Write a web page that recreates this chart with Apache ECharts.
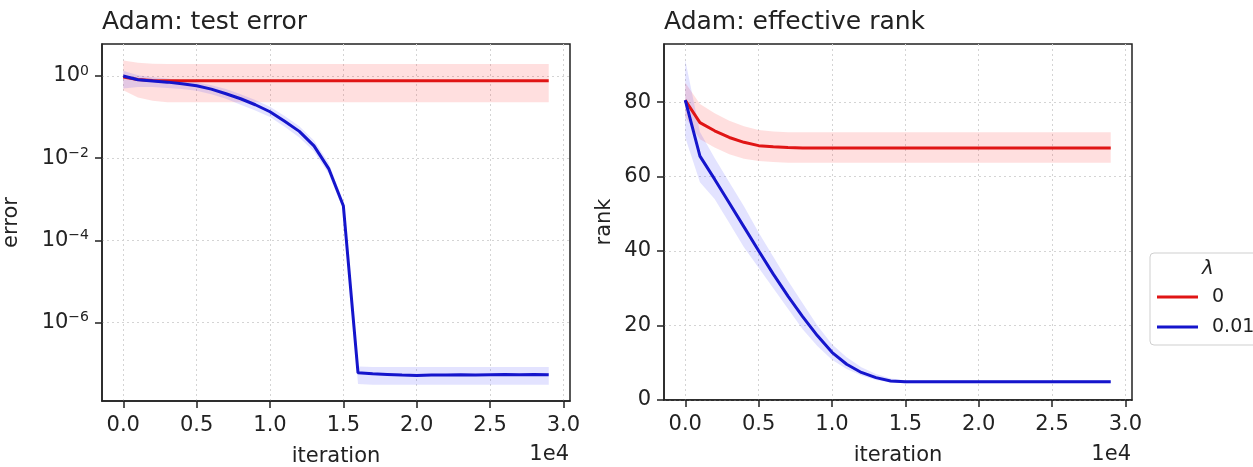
<!DOCTYPE html>
<html><head><meta charset="utf-8">
<script src="https://cdn.jsdelivr.net/npm/echarts@6/dist/echarts.min.js"></script>
<style>html,body{margin:0;padding:0;background:#fff}#c{width:1253px;height:467px}</style>
</head><body><div id="c"></div>
<script>
// ---------- data ----------
const iterations = [0,1000,2000,3000,4000,5000,6000,7000,8000,9000,10000,11000,12000,13000,14000,15000,16000,17000,18000,19000,20000,21000,22000,23000,24000,25000,26000,27000,28000,29000];
const xTicks = [0,5000,10000,15000,20000,25000,30000];
const errTickExponents = [-6,-4,-2,0];
const rankTicks = [0,20,40,60,80];
const legendNames = ['0','0.01'];

// test error, lambda = 0
const errRed   = [0.95,0.82,0.78,0.77,0.77,0.77,0.77,0.77,0.77,0.77,0.77,0.77,0.77,0.77,0.77,0.77,0.77,0.77,0.77,0.77,0.77,0.77,0.77,0.77,0.77,0.77,0.77,0.77,0.77,0.77];
const errRedHi = [2.4,2.1,2.0,1.95,1.95,1.95,1.95,1.95,1.95,1.95,1.95,1.95,1.95,1.95,1.95,1.95,1.95,1.95,1.95,1.95,1.95,1.95,1.95,1.95,1.95,1.95,1.95,1.95,1.95,1.95];
const errRedLo = [0.45,0.30,0.25,0.23,0.23,0.23,0.23,0.23,0.23,0.23,0.23,0.23,0.23,0.23,0.23,0.23,0.23,0.23,0.23,0.23,0.23,0.23,0.23,0.23,0.23,0.23,0.23,0.23,0.23,0.23];
// test error, lambda = 0.01
const errBlue   = [1.0,0.81,0.76,0.71,0.65,0.58,0.48,0.37,0.28,0.20,0.135,0.079,0.045,0.020,0.0056,0.0007,6.0e-8,5.7e-8,5.5e-8,5.3e-8,5.2e-8,5.3e-8,5.3e-8,5.4e-8,5.3e-8,5.4e-8,5.5e-8,5.4e-8,5.5e-8,5.4e-8];
const errBlueHi = [1.35,1.05,0.93,0.87,0.79,0.71,0.60,0.48,0.36,0.26,0.18,0.107,0.060,0.027,0.0076,0.00089,8.5e-8,8.3e-8,8.3e-8,8.3e-8,8.3e-8,8.3e-8,8.3e-8,8.3e-8,8.3e-8,8.3e-8,8.3e-8,8.3e-8,8.3e-8,8.3e-8];
const errBlueLo = [0.50,0.54,0.54,0.51,0.48,0.44,0.36,0.28,0.20,0.145,0.100,0.058,0.032,0.0145,0.0042,0.00056,3.2e-8,3.1e-8,3.1e-8,3.1e-8,3.1e-8,3.1e-8,3.1e-8,3.1e-8,3.1e-8,3.1e-8,3.1e-8,3.1e-8,3.1e-8,3.1e-8];

// effective rank, lambda = 0
const rankRed   = [80.5,74.5,72.3,70.5,69.2,68.3,68.0,67.8,67.7,67.7,67.7,67.7,67.7,67.7,67.7,67.7,67.7,67.7,67.7,67.7,67.7,67.7,67.7,67.7,67.7,67.7,67.7,67.7,67.7,67.7];
const rankRedHi = [85.2,79.5,77.0,75.0,73.5,72.5,72.1,71.9,71.9,71.9,71.9,71.9,71.9,71.9,71.9,71.9,71.9,71.9,71.9,71.9,71.9,71.9,71.9,71.9,71.9,71.9,71.9,71.9,71.9,71.9];
const rankRedLo = [76.0,70.0,67.8,66.0,64.8,64.2,63.9,63.7,63.7,63.7,63.7,63.7,63.7,63.7,63.7,63.7,63.7,63.7,63.7,63.7,63.7,63.7,63.7,63.7,63.7,63.7,63.7,63.7,63.7,63.7];
// effective rank, lambda = 0.01
const rankBlue   = [80.5,65.5,59.3,52.9,46.5,40.1,33.8,27.9,22.4,17.3,12.8,9.6,7.4,6.0,5.1,4.9,4.9,4.9,4.9,4.9,4.9,4.9,4.9,4.9,4.9,4.9,4.9,4.9,4.9,4.9];
const rankBlueHi = [91.3,72.0,65.0,58.5,52.0,45.0,38.5,32.0,26.0,20.0,15.0,11.5,8.8,7.0,5.8,5.3,5.3,5.3,5.3,5.3,5.3,5.3,5.3,5.3,5.3,5.3,5.3,5.3,5.3,5.3];
const rankBlueLo = [70.5,58.5,54.0,47.5,41.0,35.5,30.0,24.5,19.0,14.5,10.8,8.3,6.6,5.4,4.7,4.5,4.5,4.5,4.5,4.5,4.5,4.5,4.5,4.5,4.5,4.5,4.5,4.5,4.5,4.5];

// ---------- styling ----------
const FONT = 'DejaVu Sans';
const TXT = '#222';
const RED = '#e01515';
const BLUE = '#1515cc';
const RED_BAND = 'rgba(255,40,40,0.15)';
const BLUE_BAND = 'rgba(40,40,255,0.13)';

const lg = a => a.map(v => Math.log10(v));

function band(ax, xs, lo, hi, color) {
  return {
    type: 'custom', xAxisIndex: ax, yAxisIndex: ax, silent: true, clip: true,
    data: xs.map((x, i) => [x, lo[i], hi[i]]),
    encode: { x: 0, y: [1, 2] },
    renderItem: function (params, api) {
      if (params.dataIndex !== 0) return null;
      const pts = [];
      for (let i = 0; i < xs.length; i++) pts.push(api.coord([xs[i], hi[i]]));
      for (let i = xs.length - 1; i >= 0; i--) pts.push(api.coord([xs[i], lo[i]]));
      return { type: 'polygon', shape: { points: pts }, style: { fill: color } };
    }
  };
}
function line(ax, name, xs, ys, color) {
  return {
    type: 'line', name: name, xAxisIndex: ax, yAxisIndex: ax,
    data: xs.map((x, i) => [x, ys[i]]),
    symbol: 'none', showSymbol: false, silent: true,
    lineStyle: { color: color, width: 3 }, itemStyle: { color: color }
  };
}
function xAxis(grid) {
  return {
    type: 'value', gridIndex: grid, min: -1450, max: 30450,
    name: 'iteration', nameLocation: 'middle', nameGap: 45,
    nameTextStyle: { fontSize: 21, color: TXT, fontFamily: FONT },
    axisLine: { show: true, onZero: false, lineStyle: { color: '#222', width: 1.5 } },
    axisTick: { show: true, length: 7, customValues: xTicks, lineStyle: { color: '#222', width: 1.5 } },
    axisLabel: { customValues: xTicks, margin: 14, fontSize: 21, color: TXT, fontFamily: FONT,
      formatter: v => (v / 10000).toFixed(1) },
    splitLine: { show: true, lineStyle: { color: '#d4d4d4', width: 1, type: [2, 3] } }
  };
}

const option = {
  animation: false,
  textStyle: { fontFamily: FONT },
  title: [
    { text: 'Adam: test error', left: 102, top: 10, padding: 0,
      textStyle: { fontSize: 25, fontWeight: 'normal', color: TXT, fontFamily: FONT } },
    { text: 'Adam: effective rank', left: 664, top: 10, padding: 0,
      textStyle: { fontSize: 25, fontWeight: 'normal', color: TXT, fontFamily: FONT } }
  ],
  grid: [
    { left: 102, top: 44, width: 468, height: 357, show: true, borderColor: '#222', borderWidth: 1.5, outerBoundsMode: 'none', containLabel: false },
    { left: 664, top: 44, width: 468, height: 356, show: true, borderColor: '#222', borderWidth: 1.5, outerBoundsMode: 'none', containLabel: false }
  ],
  xAxis: [xAxis(0), xAxis(1)],
  yAxis: [
    { type: 'value', gridIndex: 0, min: -7.907, max: 0.779,
      name: 'error', nameLocation: 'middle', nameGap: 80,
      nameTextStyle: { fontSize: 21, color: TXT, fontFamily: FONT },
      axisLine: { show: true, onZero: false, lineStyle: { color: '#222', width: 1.5 } },
      axisTick: { show: true, length: 7, customValues: errTickExponents, lineStyle: { color: '#222', width: 1.5 } },
      axisLabel: { customValues: errTickExponents, margin: 13, color: TXT, fontFamily: FONT,
        formatter: v => '{b|10}{s|' + (Math.round(v) === 0 ? '0' : '\u2212' + Math.round(-v)) + '}',
        rich: { b: { fontSize: 21, lineHeight: 24, color: TXT, fontFamily: FONT },
                s: { fontSize: 14, lineHeight: 12, verticalAlign: 'top', color: TXT, fontFamily: FONT } } },
      splitLine: { show: true, lineStyle: { color: '#d4d4d4', width: 1, type: [2, 3] } } },
    { type: 'value', gridIndex: 1, min: 0, max: 95.6,
      name: 'rank', nameLocation: 'middle', nameGap: 49,
      nameTextStyle: { fontSize: 21, color: TXT, fontFamily: FONT },
      axisLine: { show: true, onZero: false, lineStyle: { color: '#222', width: 1.5 } },
      axisTick: { show: true, length: 7, customValues: rankTicks, lineStyle: { color: '#222', width: 1.5 } },
      axisLabel: { customValues: rankTicks, margin: 13, fontSize: 21, color: TXT, fontFamily: FONT },
      splitLine: { show: true, lineStyle: { color: '#d4d4d4', width: 1, type: [2, 3] } } }
  ],
  legend: {
    data: legendNames, orient: 'vertical', left: 1150, top: 253,
    padding: [34, 40, 8, 7], icon: 'rect', itemWidth: 41, itemHeight: 3, itemGap: 10,
    backgroundColor: '#fff', borderColor: '#cfcfcf', borderWidth: 1, borderRadius: 4,
    selectedMode: false,
    textStyle: { fontSize: 19, lineHeight: 20, color: TXT, fontFamily: FONT, padding: [0, 0, 0, 9] }
  },
  graphic: [
    { type: 'text', x: 569, y: 455, silent: true, style: { text: '1e4', fontSize: 21, fontFamily: FONT, fill: TXT, align: 'right', verticalAlign: 'middle' } },
    { type: 'text', x: 1131, y: 455, silent: true, style: { text: '1e4', fontSize: 21, fontFamily: FONT, fill: TXT, align: 'right', verticalAlign: 'middle' } },
    { type: 'text', x: 1208, y: 269, z: 100, silent: true, style: { text: '\u03bb', fontSize: 20, fontStyle: 'italic', fontFamily: FONT, fill: TXT, align: 'center', verticalAlign: 'middle' } }
  ],
  series: [
    band(0, iterations, lg(errRedLo), lg(errRedHi), RED_BAND),
    line(0, legendNames[0], iterations, lg(errRed), RED),
    band(0, iterations, lg(errBlueLo), lg(errBlueHi), BLUE_BAND),
    line(0, legendNames[1], iterations, lg(errBlue), BLUE),
    band(1, iterations, rankRedLo, rankRedHi, RED_BAND),
    line(1, legendNames[0], iterations, rankRed, RED),
    band(1, iterations, rankBlueLo, rankBlueHi, BLUE_BAND),
    line(1, legendNames[1], iterations, rankBlue, BLUE)
  ]
};
const chart = echarts.init(document.getElementById('c'), null, { renderer: 'canvas' });
chart.setOption(option);
</script>
</body></html>
